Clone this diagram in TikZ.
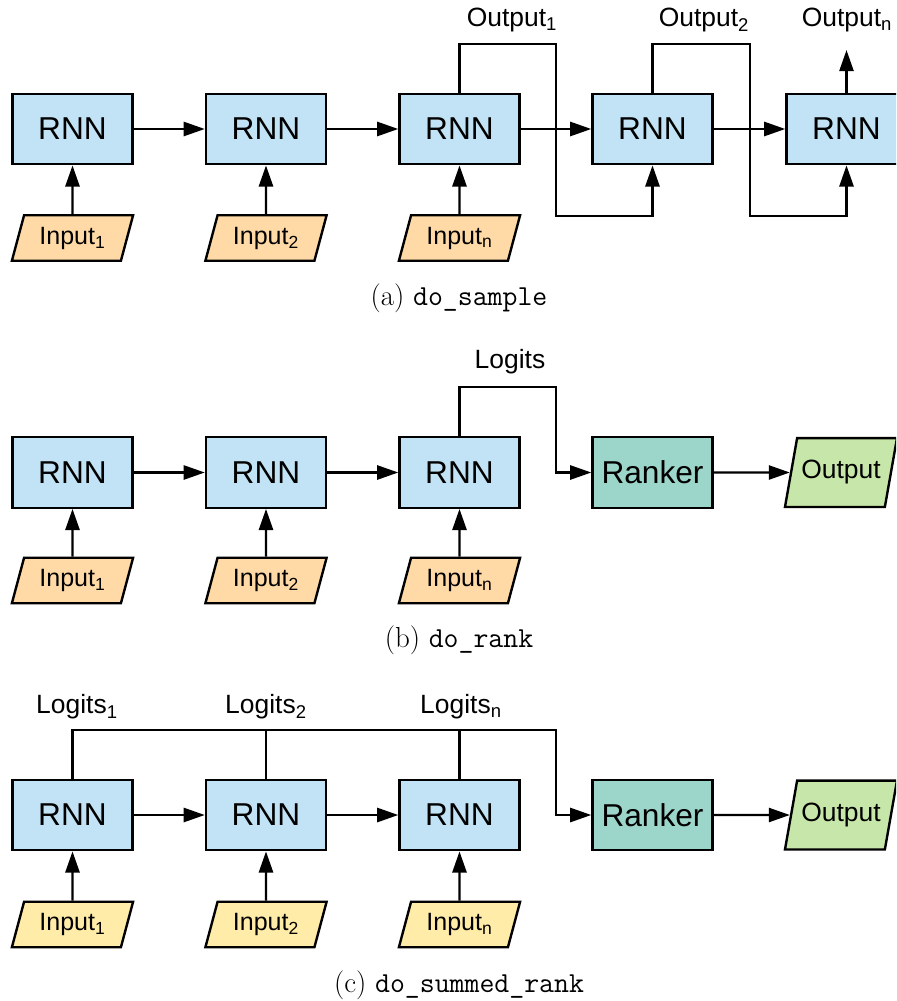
\documentclass[tikz,border=0pt]{standalone}
\usepackage{fontspec}
\newfontfamily\arial{Liberation Sans}
\usetikzlibrary{arrows.meta,shapes.geometric}
\definecolor{rnnblue}{HTML}{C1E3F5}
\definecolor{inorange}{HTML}{FFDAA6}
\definecolor{inyellow}{HTML}{FFECA8}
\definecolor{rankgreen}{HTML}{9CD5CA}
\definecolor{outgreen}{HTML}{C6E7A9}
\begin{document}
\begin{tikzpicture}[x=0.025cm,y=-0.025cm,line width=1.7pt,
    rnn/.style={draw,fill=rnnblue,minimum width=3cm,minimum height=1.76cm,inner sep=0pt,font=\arial\fontsize{22.5}{26}\selectfont},
    ranker/.style={rnn,fill=rankgreen},
    inp/.style={draw,fill=inorange,trapezium,trapezium left angle=75,trapezium right angle=105,trapezium stretches body,minimum width=3.03cm,text height=13pt,text depth=4pt,inner xsep=0pt,inner ysep=7.7pt,font=\arial\fontsize{17.8}{20}\selectfont},
    outp/.style={inp,fill=outgreen,trapezium left angle=80,trapezium right angle=100,minimum width=2.8cm,inner ysep=16pt,font=\arial\fontsize{18.8}{22}\selectfont},
    lbl/.style={font=\arial\fontsize{18.8}{22}\selectfont},
    captext/.style={font=\fontsize{20.6}{24}\selectfont},
    arr/.style={-{Triangle[length=15pt,width=10pt]}}]
    \useasboundingbox (0,0) rectangle (896,1001);
    \clip (0,0) rectangle (896,1001);
    % (a) do_sample
    \node[rnn] (ra1) at (72.5,129) {RNN};
    \node[rnn] (ra2) at (266,129) {RNN};
    \node[rnn] (ra3) at (459.5,129) {RNN};
    \node[rnn] (ra4) at (652.5,129) {RNN};
    \node[rnn] (ra5) at (846.5,129) {RNN};
    \node[inp] (ia1) at (72.5,238) {Input\textsubscript{1}};
    \node[inp] (ia2) at (266,238) {Input\textsubscript{2}};
    \node[inp] (ia3) at (459.5,238) {Input\textsubscript{n}};
    \node[lbl] (oa1) at (512,20) {Output\textsubscript{1}};
    \node[lbl] (oa2) at (704,20) {Output\textsubscript{2}};
    \node[lbl] (oa3) at (847,20) {Output\textsubscript{n}};
    \coordinate (ta1) at (556,44);
    \coordinate (ba1) at (556,216);
    \coordinate (ta2) at (750,44);
    \coordinate (ba2) at (750,216);
    \coordinate (tipa) at (846.5,50);
    \draw[arr] (ra1) -- (ra2);
    \draw[arr] (ra2) -- (ra3);
    \draw[arr] (ra3) -- (ra4);
    \draw[arr] (ra4) -- (ra5);
    \draw[arr] (ia1) -- (ra1);
    \draw[arr] (ia2) -- (ra2);
    \draw[arr] (ia3) -- (ra3);
    \draw[arr] (ra3.north) |- (ta1) -- (ba1) -| (ra4.south);
    \draw[arr] (ra4.north) |- (ta2) -- (ba2) -| (ra5.south);
    \draw[arr] (ra5.north) -- (tipa);
    \node[captext] (capa) at (459,298) {(a) \texttt{do\_sample}};
    % (b) do_rank
    \node[rnn] (rb1) at (72.5,472.5) {RNN};
    \node[rnn] (rb2) at (266,472.5) {RNN};
    \node[rnn] (rb3) at (459.5,472.5) {RNN};
    \node[ranker] (kb) at (652.5,472.5) {Ranker};
    \node[outp] (ob) at (841,472.5) {Output};
    \node[inp] (ib1) at (72.5,580.5) {Input\textsubscript{1}};
    \node[inp] (ib2) at (266,580.5) {Input\textsubscript{2}};
    \node[inp] (ib3) at (459.5,580.5) {Input\textsubscript{n}};
    \node[lbl] (lb) at (510,362) {Logits};
    \coordinate (tb) at (556,387);
    \draw[arr] (rb1) -- (rb2);
    \draw[arr] (rb2) -- (rb3);
    \draw[arr] (ib1) -- (rb1);
    \draw[arr] (ib2) -- (rb2);
    \draw[arr] (ib3) -- (rb3);
    \draw[arr] (rb3.north) |- (tb) |- (kb.west);
    \draw[arr] (kb) -- (ob);
    \node[captext] (capb) at (459,640) {(b) \texttt{do\_rank}};
    % (c) do_summed_rank
    \node[rnn] (rc1) at (72.5,815) {RNN};
    \node[rnn] (rc2) at (266,815) {RNN};
    \node[rnn] (rc3) at (459.5,815) {RNN};
    \node[ranker] (kc) at (652.5,815) {Ranker};
    \node[outp] (oc) at (841,815) {Output};
    \node[inp,fill=inyellow] (ic1) at (72.5,924.5) {Input\textsubscript{1}};
    \node[inp,fill=inyellow] (ic2) at (266,924.5) {Input\textsubscript{2}};
    \node[inp,fill=inyellow] (ic3) at (459.5,924.5) {Input\textsubscript{n}};
    \node[lbl] (lc1) at (77,707) {Logits\textsubscript{1}};
    \node[lbl] (lc2) at (266,707) {Logits\textsubscript{2}};
    \node[lbl] (lc3) at (461,707) {Logits\textsubscript{n}};
    \coordinate (tc) at (556,730);
    \draw[arr] (rc1) -- (rc2);
    \draw[arr] (rc2) -- (rc3);
    \draw[arr] (ic1) -- (rc1);
    \draw[arr] (ic2) -- (rc2);
    \draw[arr] (ic3) -- (rc3);
    \draw[arr] (rc1.north) |- (tc) |- (kc.west);
    \draw (rc2.north) -- (rc2.north |- tc);
    \draw (rc3.north) -- (rc3.north |- tc);
    \draw[arr] (kc) -- (oc);
    \node[captext] (capc) at (459,985) {(c) \texttt{do\_summed\_rank}};
\end{tikzpicture}
\end{document}
